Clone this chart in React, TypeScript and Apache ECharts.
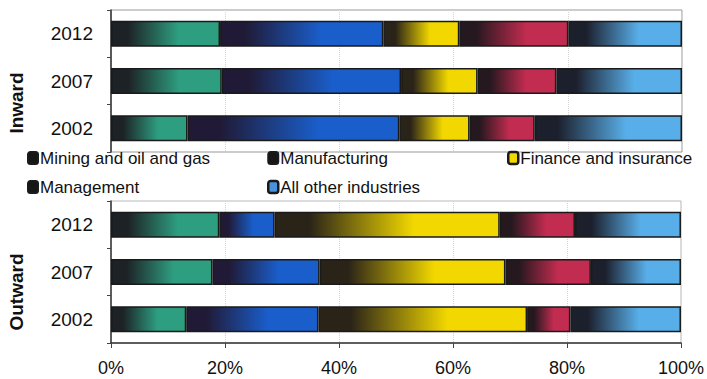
import React, { useEffect, useRef } from "react";
import * as echarts from "echarts";

const years = ["2012", "2007", "2002"];
const industries = [
  "Mining and oil and gas",
  "Manufacturing",
  "Finance and insurance",
  "Management",
  "All other industries",
];
// shares (%) per industry, order of years: 2012, 2007, 2002
const inwardMining = [19.1, 19.4, 13.4];
const inwardManufacturing = [28.6, 31.4, 37.1];
const inwardFinance = [13.3, 13.4, 12.3];
const inwardManagement = [19.1, 13.8, 11.4];
const inwardOther = [19.9, 22.0, 25.8];

const outwardMining = [19.0, 17.8, 13.2];
const outwardManufacturing = [9.7, 18.8, 23.2];
const outwardFinance = [39.5, 32.6, 36.6];
const outwardManagement = [13.2, 15.0, 7.6];
const outwardOther = [18.6, 15.8, 19.4];

const xTicks = [0, 20, 40, 60, 80, 100];

const darkStarts = ["#1d2226", "#201a36", "#2a2318", "#26181f", "#1c1f2c"];
const fullColors = ["#2e9e80", "#1a5ecb", "#f2d800", "#c22c50", "#58aee8"];

function grad(i: number) {
  return new echarts.graphic.LinearGradient(0, 0, 1, 0, [
    { offset: 0, color: darkStarts[i] },
    { offset: 0.15, color: darkStarts[i] },
    { offset: 0.62, color: fullColors[i] },
    { offset: 1, color: fullColors[i] },
  ]);
}

export default function App() {
  const ref = useRef<HTMLDivElement>(null);
  useEffect(() => {
    if (!ref.current) return;
    const chart = echarts.init(ref.current, undefined, { renderer: "svg" });
    const inward = [inwardMining, inwardManufacturing, inwardFinance, inwardManagement, inwardOther];
    const outward = [outwardMining, outwardManufacturing, outwardFinance, outwardManagement, outwardOther];
    const font = "'Liberation Sans', Arial, sans-serif";
    const mkSeries = (arr: number[][], idx: number) =>
      arr.map((d, i) => ({
        name: industries[i],
        type: "bar",
        stack: "s" + idx,
        xAxisIndex: idx,
        yAxisIndex: idx,
        barWidth: 26,
        data: d,
        itemStyle: { color: grad(i), borderColor: "#1a1a1a", borderWidth: 1.5 },
      }));
    const yAxisBase = (idx: number) => ({
      type: "category",
      gridIndex: idx,
      data: years,
      inverse: true,
      axisLine: { show: true, lineStyle: { color: "#333", width: 1.5 } },
      axisTick: { show: true, length: 4, lineStyle: { color: "#444" } },
      axisLabel: { color: "#111", fontSize: 19, fontFamily: font, margin: 18 },
    });
    const xAxisBase = (idx: number, showLabels: boolean) => ({
      type: "value",
      gridIndex: idx,
      min: xTicks[0],
      max: xTicks[xTicks.length - 1],
      interval: 20,
      axisLine: { show: showLabels, lineStyle: { color: "#333", width: 1.5 } },
      axisTick: { show: showLabels, length: 5, lineStyle: { color: "#444" } },
      axisLabel: {
        show: showLabels,
        color: "#111",
        fontSize: 18,
        fontFamily: font,
        margin: 16,
        formatter: "{value}%",
      },
      splitLine: { show: true, lineStyle: { color: "#d4d4d4", type: "dotted" } },
    });
    const legendBase = {
      orient: "vertical",
      itemWidth: 10,
      itemHeight: 12,
      itemGap: 11,
      icon: "roundRect",
      textStyle: { color: "#111", fontSize: 17, fontFamily: font, lineHeight: 18, padding: [0, 0, 0, -3] },
      selectedMode: false,
      padding: 0,
    };
    const dark = { color: "#161616" };
    chart.setOption({
      animation: false,
      grid: [
        { left: 111, top: 10, width: 571, height: 142, show: true, borderColor: "#999", borderWidth: 1 },
        { left: 111, top: 201, width: 571, height: 142, show: true, borderColor: "#bbb", borderWidth: 1 },
      ],
      xAxis: [xAxisBase(0, false), xAxisBase(1, true)],
      yAxis: [yAxisBase(0), yAxisBase(1)],
      legend: [
        {
          ...legendBase,
          left: 27,
          top: 149,
          data: [
            { name: industries[0], itemStyle: dark },
            { name: industries[3], itemStyle: dark },
          ],
        },
        {
          ...legendBase,
          left: 267,
          top: 149,
          data: [
            { name: industries[1], itemStyle: dark },
            { name: industries[4], itemStyle: { color: "#4a92dc", borderColor: "#1a1a1a", borderWidth: 2.5 } },
          ],
        },
        {
          ...legendBase,
          left: 507,
          top: 149,
          data: [
            { name: industries[2], itemStyle: { color: "#f2d800", borderColor: "#1a1a1a", borderWidth: 2.5 } },
          ],
        },
      ],
      graphic: [
        {
          type: "text",
          x: 16,
          y: 103,
          rotation: Math.PI / 2,
          style: {
            text: "Inward",
            fontSize: 19,
            fontWeight: "bold",
            fontFamily: font,
            fill: "#111",
            align: "center",
            verticalAlign: "middle",
          },
        },
        {
          type: "text",
          x: 16,
          y: 292,
          rotation: Math.PI / 2,
          style: {
            text: "Outward",
            fontSize: 19,
            fontWeight: "bold",
            fontFamily: font,
            fill: "#111",
            align: "center",
            verticalAlign: "middle",
          },
        },
      ],
      series: [...mkSeries(inward, 0), ...mkSeries(outward, 1)],
    });
    return () => chart.dispose();
  }, []);
  return (
    <div
      ref={ref}
      style={{ position: "fixed", left: 0, top: 0, width: 707, height: 379, background: "#fff" }}
    />
  );
}
